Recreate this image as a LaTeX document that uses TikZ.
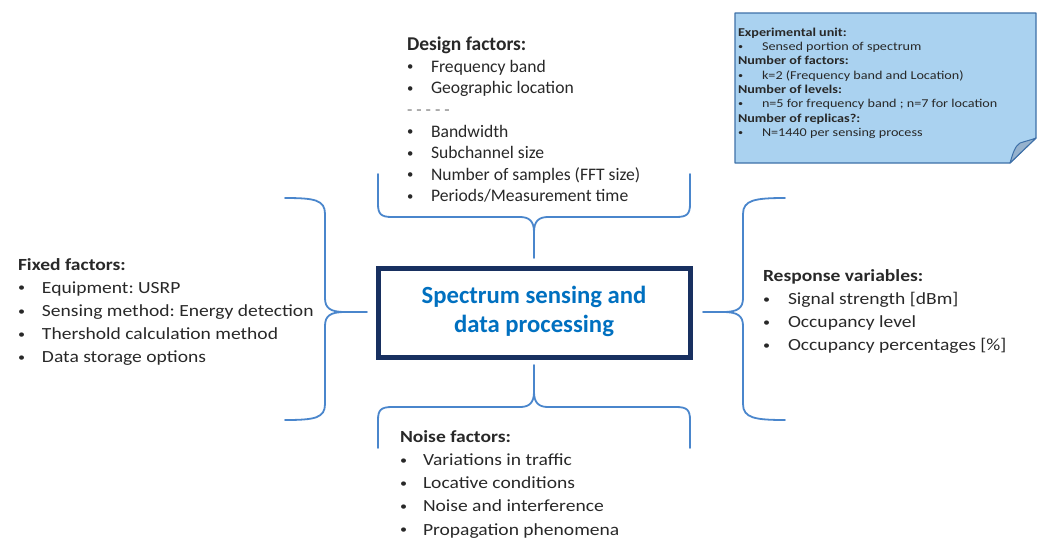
\documentclass[tikz,border=0pt]{standalone}
\usepackage{fontspec}
\setmainfont{Carlito}
\newfontfamily\listfont[FakeStretch=1.15]{Carlito}
\newfontfamily\notefont[FakeStretch=1.18]{Carlito}
\frenchspacing
\definecolor{braceblue}{RGB}{74,134,204}
\definecolor{boxnavy}{RGB}{24,48,96}
\definecolor{titleblue}{RGB}{0,112,192}
\definecolor{textgray}{RGB}{40,40,40}
\definecolor{notefill}{RGB}{170,210,240}
\definecolor{noteline}{RGB}{62,112,168}
\definecolor{foldfill}{RGB}{150,178,205}
% small bullet with a fixed indent
\newcommand{\smallbullet}{\raisebox{0.08em}{\scalebox{0.72}{\textbullet}}}
\newcommand{\bitem}[2][22pt]{\makebox[#1][l]{\smallbullet}#2\strut}
\newcommand{\bhead}[1]{\textbf{#1}\strut}
\begin{document}
\begin{tikzpicture}[x=1pt,y=-1pt,
  brace/.style={draw=braceblue, line width=1.8pt, line cap=round, line join=round},
  block/.style={anchor=north west, inner sep=0pt, outer sep=0pt, align=left, text=textgray},
  mainbox/.style={draw=boxnavy, line width=5pt, fill=white, inner sep=0pt},
  title/.style={inner sep=0pt, align=center, text=titleblue, font=\bfseries\fontsize{24.7}{29}\selectfont},
  note/.style={fill=notefill, draw=noteline, line width=1.2pt, line join=round}]
\useasboundingbox (0,0) rectangle (1042,539);

% central process box
\draw[mainbox] (378,268) rectangle (690,357);
\node[title] (core) at (534,312.5) {Spectrum sensing and\strut\\data processing\strut};

% braces
\coordinate (toptip) at (534,258);
\coordinate (bottip) at (534,365);
\coordinate (lefttip) at (367,312);
\coordinate (righttip) at (703,312);
\draw[brace] (378,174) -- (378,204) .. controls (378,214) and (381,217) .. (392,217) -- (520,217) .. controls (529,217) and (534,221) .. (534,232) -- (toptip);
\draw[brace] (690,174) -- (690,204) .. controls (690,214) and (687,217) .. (676,217) -- (548,217) .. controls (539,217) and (534,221) .. (534,232);
\draw[brace] (bottip) -- (534,392) .. controls (534,403) and (529,407) .. (520,407) -- (392,407) .. controls (381,407) and (378,410) .. (378,420) -- (378,448);
\draw[brace] (534,392) .. controls (534,403) and (539,407) .. (548,407) -- (676,407) .. controls (687,407) and (690,410) .. (690,420) -- (690,448);
\draw[brace] (285,198) .. controls (315,198) and (325,200) .. (325,214) -- (325,298) .. controls (325,308) and (330,312) .. (345,312) -- (lefttip);
\draw[brace] (285,420) .. controls (315,420) and (325,418) .. (325,404) -- (325,326) .. controls (325,316) and (330,312) .. (345,312);
\draw[brace] (785,198) .. controls (755,198) and (743,200) .. (743,214) -- (743,298) .. controls (743,308) and (738,312) .. (723,312) -- (righttip);
\draw[brace] (785,420) .. controls (755,420) and (743,418) .. (743,404) -- (743,326) .. controls (743,316) and (738,312) .. (723,312);

% factor lists
\node[block, font=\fontsize{17.6}{21.6}\selectfont] (design) at (407,35.5) {%
  {\fontsize{19.5}{21.6}\selectfont\textbf{Design factors:}}\strut\\
  \bitem[24pt]{Frequency band}\\
  \bitem[24pt]{Geographic location}\\
  {\color{gray}- - - - -}\strut\\
  \bitem[24pt]{Bandwidth}\\
  \bitem[24pt]{Subchannel size}\\
  \bitem[24pt]{Number of samples (FFT size)}\\
  \bitem[24pt]{Periods/Measurement time}};

\node[block, font=\listfont\fontsize{17}{23.2}\selectfont] (fixed) at (18,253.8) {%
  \bhead{Fixed factors:}\\
  \bitem[24pt]{Equipment: USRP}\\
  \bitem[24pt]{Sensing method: Energy detection}\\
  \bitem[24pt]{Thershold calculation method}\\
  \bitem[24pt]{Data storage options}};

\node[block, font=\listfont\fontsize{17}{23.2}\selectfont] (response) at (763,265) {%
  \bhead{Response variables:}\\
  \bitem[25pt]{Signal strength [dBm]}\\
  \bitem[25pt]{Occupancy level}\\
  \bitem[25pt]{Occupancy percentages [\%]}};

\node[block, font=\listfont\fontsize{17}{23.2}\selectfont] (noise) at (400,426.1) {%
  \bhead{Noise factors:}\\
  \bitem[23pt]{Variations in traffic}\\
  \bitem[23pt]{Locative conditions}\\
  \bitem[23pt]{Noise and interference}\\
  \bitem[23pt]{Propagation phenomena}};

% sticky note with folded corner
\draw[note] (735,13) -- (1036,13) -- (1036,138) -- (1010,163) -- (735,163) -- cycle;
\draw[fill=foldfill, draw=noteline, line width=1pt, line join=round] (1010,163) .. controls (1013,153) and (1015,146) .. (1020,143) .. controls (1026,141) and (1031,140) .. (1036,138) -- cycle;
\node[block, font=\notefont\fontsize{12}{14.3}\selectfont] (notetext) at (738,26.2) {%
  \bhead{Experimental unit:}\\
  \bitem[24pt]{Sensed portion of spectrum}\\
  \bhead{Number of factors:}\\
  \bitem[24pt]{k=2 (Frequency band and Location)}\\
  \bhead{Number of levels:}\\
  \bitem[24pt]{n=5 for frequency band ; n=7 for location}\\
  \bhead{Number of replicas?:}\\
  \bitem[24pt]{N=1440 per sensing process}};
\end{tikzpicture}
\end{document}
